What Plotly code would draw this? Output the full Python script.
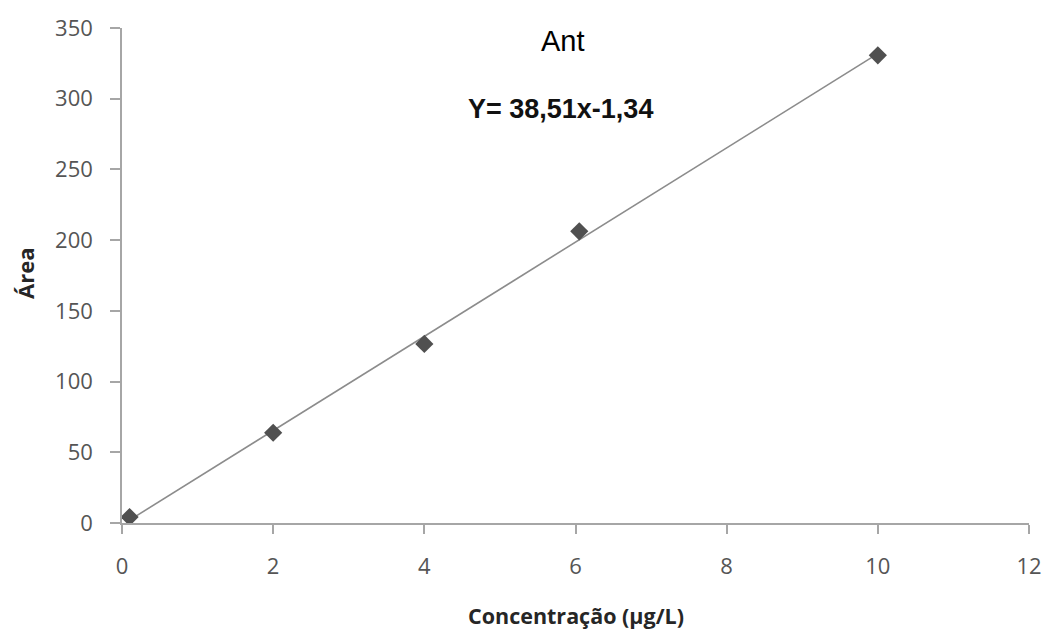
import numpy as np
import plotly.graph_objects as go

# Calibration data: concentration (µg/L) vs peak area
concentracao = [0.1, 2.0, 4.0, 6.05, 10.0]
area = [4.2, 63.8, 126.6, 206.2, 330.7]

titulo = "Ant"
equacao = "Y= 38,51x-1,34"
x_ticks = [0, 2, 4, 6, 8, 10, 12]
y_ticks = [0, 50, 100, 150, 200, 250, 300, 350]

# Linear trend line fitted to the calibration points
coef = np.polyfit(concentracao, area, 1)
x_fit = np.array([min(concentracao), max(concentracao)])
y_fit = np.polyval(coef, x_fit)

fig = go.Figure()
fig.add_trace(go.Scatter(
    x=x_fit, y=y_fit, mode="lines",
    line=dict(color="#8c8c8c", width=1.6),
    hoverinfo="skip", showlegend=False,
))
fig.add_trace(go.Scatter(
    x=concentracao, y=area, mode="markers",
    marker=dict(symbol="diamond", size=14, color="#505050"),
    showlegend=False,
))

tick_font = dict(family="Open Sans", size=22, color="#555555")
axis_common = dict(
    showgrid=False, zeroline=False, showline=True,
    linecolor="#a6a6a6", linewidth=1.5,
    ticks="outside", tickcolor="#a6a6a6", tickwidth=1.5,
    tickfont=tick_font,
)

fig.update_layout(
    width=1056, height=632,
    margin=dict(l=122, r=27, t=24, b=109),
    paper_bgcolor="white", plot_bgcolor="white",
    xaxis=dict(range=[0, 12], tickvals=x_ticks, ticklen=9,
               ticklabelstandoff=14, **axis_common),
    yaxis=dict(range=[0, 350], tickvals=y_ticks, ticklen=10,
               ticklabelstandoff=13, **axis_common),
    annotations=[
        dict(text=titulo, xref="paper", yref="paper", x=0.486, y=0.974,
             xanchor="center", yanchor="middle", showarrow=False,
             font=dict(family="Liberation Sans", size=29, color="#000000")),
        dict(text="<b>" + equacao + "</b>", xref="paper", yref="paper",
             x=0.484, y=0.836, xanchor="center", yanchor="middle",
             showarrow=False,
             font=dict(family="Liberation Sans", size=27, color="#111111")),
        dict(text="<b>Área</b>", xref="paper", yref="paper", x=0, y=0.503,
             xshift=-97, textangle=-90, xanchor="center", yanchor="middle",
             showarrow=False,
             font=dict(family="Open Sans", size=22, color="#262626")),
        dict(text="<b>Concentração (µg/L)</b>", xref="paper", yref="paper",
             x=0.5006, y=0, yshift=-92, xanchor="center", yanchor="middle",
             showarrow=False,
             font=dict(family="Open Sans", size=21.5, color="#262626")),
    ],
)

fig.write_html("out.html")
